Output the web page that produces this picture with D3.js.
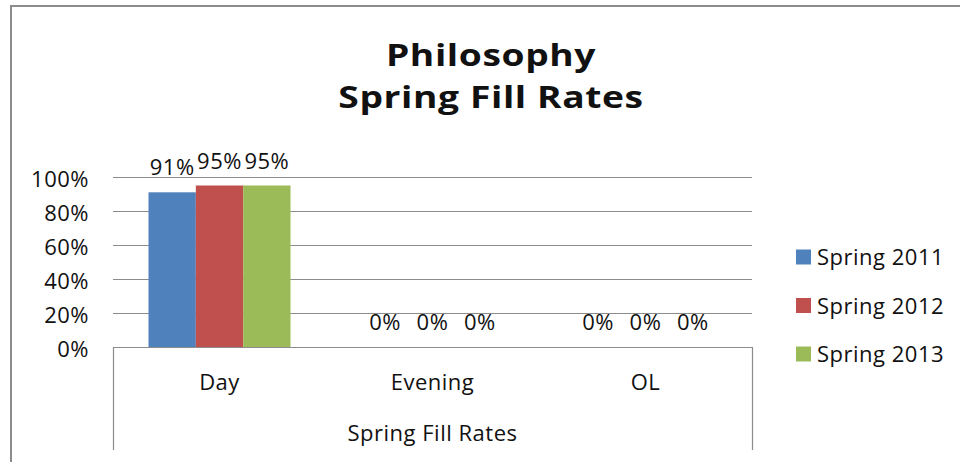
<!DOCTYPE html>
<html>
<head>
<meta charset="utf-8">
<script src="https://cdn.jsdelivr.net/npm/d3@7"></script>
<style>
  body { margin: 0; background: #fff; }
  text { font-family: "Open Sans", Lato, sans-serif; fill: #111; letter-spacing: 0.5px; }
</style>
</head>
<body>
<div id="chart"></div>
<script>
// ---------------- data ----------------
const categories = ["Day", "Evening", "OL"]
const seriesNames = ["Spring 2011", "Spring 2012", "Spring 2013"]
const spring2011 = [0.91, 0, 0]
const spring2012 = [0.95, 0, 0]
const spring2013 = [0.95, 0, 0]
const yTicks = [0, 0.2, 0.4, 0.6, 0.8, 1.0]
const colors = ["#4F81BD", "#C0504D", "#9BBB59"]

const seriesValues = [spring2011, spring2012, spring2013]

var width = 960, height = 462
var plot = {left: 113, right: 752, top: 177, bottom: 347}
var fontFam = '"Open Sans", Lato, sans-serif'

var svg = d3.select("#chart").append("svg")
    .attr("width", width)
    .attr("height", height)

// chart frame (only top and left edges visible in the picture)
svg.append("path")
  .attr("d", "M11,462 V6 H960")
  .attr("fill", "none")
  .attr("stroke", "#8c8c8c")
  .attr("stroke-width", 2)

// title - the original glyphs are wide, so stretch horizontally a bit
var titleG = svg.append("g")
  .attr("transform", "translate(491,0) scale(1.2,1)")
titleG.append("text")
  .attr("x", 0).attr("y", 66)
  .attr("text-anchor", "middle")
  .attr("font-weight", "bold")
  .attr("font-size", "31px")
  .text("Philosophy")
titleG.append("text")
  .attr("x", 0).attr("y", 108)
  .attr("text-anchor", "middle")
  .attr("font-weight", "bold")
  .attr("font-size", "31px")
  .text("Spring Fill Rates")

var x = d3.scaleBand()
    .domain(categories)
    .range([plot.left, plot.right])
    .paddingInner(0)
    .paddingOuter(0)

var xSub = d3.scaleBand()
    .domain(seriesNames)
    .range([0, x.bandwidth()])
    .paddingInner(0)
    .paddingOuter(0.75)

var y = d3.scaleLinear()
    .domain([0, 1])
    .range([plot.bottom, plot.top])

// gridlines
svg.append("g")
  .selectAll("line")
  .data(yTicks)
  .join("line")
    .attr("x1", plot.left)
    .attr("x2", plot.right)
    .attr("y1", d => Math.round(y(d)) + 0.5)
    .attr("y2", d => Math.round(y(d)) + 0.5)
    .attr("stroke", "#8c8c8c")
    .attr("stroke-width", 1.2)

// y axis labels
var yAxis = d3.axisLeft(y)
    .tickValues(yTicks)
    .tickFormat(d3.format(".0%"))
    .tickSize(0)
    .tickPadding(0)

var gy = svg.append("g")
  .attr("transform", "translate(89,2)")
  .call(yAxis)
gy.select(".domain").remove()
gy.selectAll("text")
  .attr("font-size", "22px")
  .attr("fill", "#111")
  .style("font-family", fontFam)

// bars
var groups = svg.append("g")
  .selectAll("g")
  .data(seriesNames)
  .join("g")
    .attr("fill", (d, i) => colors[i])

groups.selectAll("rect")
  .data((s, i) => seriesValues[i].map((v, j) => ({s: s, cat: categories[j], v: v})))
  .join("rect")
    .attr("x", d => x(d.cat) + xSub(d.s))
    .attr("width", xSub.bandwidth())
    .attr("y", d => y(d.v))
    .attr("height", d => y(0) - y(d.v))

// data labels
groups.selectAll("text")
  .data((s, i) => seriesValues[i].map((v, j) => ({s: s, cat: categories[j], v: v})))
  .join("text")
    .attr("x", d => x(d.cat) + xSub(d.s) + xSub.bandwidth() / 2)
    .attr("y", d => y(d.v) - 17)
    .attr("text-anchor", "middle")
    .attr("font-size", "22px")
    .text(d => d3.format(".0%")(d.v))

// x axis: baseline plus outer box of the category area
var xAxisG = svg.append("g")
xAxisG.append("path")
  .attr("d", `M${plot.left + 0.5},450 V${plot.bottom + 0.5} H${plot.right + 0.5} V450`)
  .attr("fill", "none")
  .attr("stroke", "#8c8c8c")
  .attr("stroke-width", 1.2)

var xAxis = d3.axisBottom(x).tickSize(0).tickPadding(0)
var gx = svg.append("g")
  .attr("transform", `translate(0,${plot.bottom + 43})`)
  .call(xAxis)
gx.select(".domain").remove()
gx.selectAll("text")
  .attr("dy", 0)
  .attr("font-size", "22px")
  .attr("fill", "#111")
  .style("font-family", fontFam)

// outer category label
svg.append("text")
  .attr("x", (plot.left + plot.right) / 2)
  .attr("y", 441)
  .attr("text-anchor", "middle")
  .attr("font-size", "22px")
  .text("Spring Fill Rates")

// legend
var legend = svg.append("g")
  .selectAll("g")
  .data(seriesNames)
  .join("g")
    .attr("transform", (d, i) => `translate(796,${257 + i * 48.5})`)

legend.append("rect")
  .attr("x", 0)
  .attr("y", -7.5)
  .attr("width", 15)
  .attr("height", 15)
  .attr("fill", (d, i) => colors[i])

legend.append("text")
  .attr("x", 21)
  .attr("y", 8)
  .attr("font-size", "22px")
  .text(d => d)
</script>
</body>
</html>
